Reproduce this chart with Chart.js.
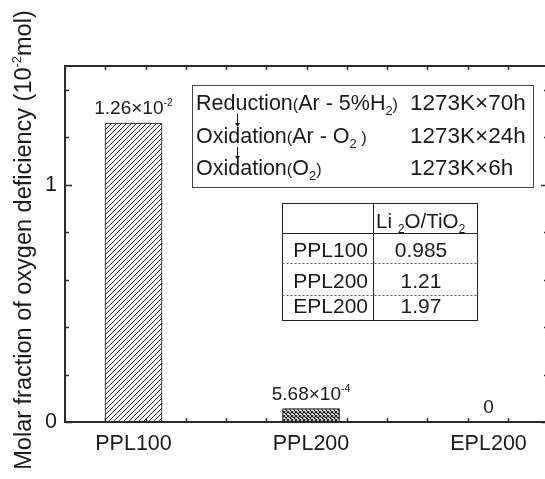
<!DOCTYPE html>
<html>
<head>
<meta charset="utf-8">
<script src="https://cdn.jsdelivr.net/npm/chart.js@4.4.1/dist/chart.umd.min.js"></script>
<style>
html, body { margin: 0; padding: 0; background: #fff; overflow: hidden; }
#wrap { position: absolute; left: 0; top: 0; width: 552px; height: 479px; }
</style>
</head>
<body>
<div id="wrap"><canvas id="chart" width="552" height="479"></canvas></div>
<script>
const categories = ['PPL100', 'PPL200', 'EPL200'];
const values = [1.26, 0.0568, 0];
const valueText = ['1.26×10', '5.68×10', '0'];
const valueExp = ['-2', '-4', ''];
const yLabelTicks = [0, 1];

const steps = [
    [['Reduction', 'n'], ['(', 'p'], ['Ar - 5%H', 'n'], ['2', 's'], [')', 'p']],
    [['Oxidation', 'n'], ['(', 'p'], ['Ar - O', 'n'], ['2', 's'], [' )', 'p']],
    [['Oxidation', 'n'], ['(', 'p'], ['O', 'n'], ['2', 's'], [')', 'p']]
];
const stepConditions = ['1273K×70h', '1273K×24h', '1273K×6h'];

const tableHeader = [['Li ', 'n'], ['2', 's'], ['O/TiO', 'n'], ['2', 's']];
const tableRows = ['PPL100', 'PPL200', 'EPL200'];
const tableRatios = ['0.985', '1.21', '1.97'];

const yTitle = [['Molar fraction of oxygen deficiency (10', 'n'], ['-2', 'u'], ['mol)', 'n']];

const FAMILY = '"Liberation Sans", Arial, sans-serif';
const INK = '#1a1a1a';

function pattern(size, draw) {
    const c = document.createElement('canvas');
    c.width = c.height = size;
    const g = c.getContext('2d');
    g.fillStyle = '#fff';
    g.fillRect(0, 0, size, size);
    g.strokeStyle = '#111';
    g.lineWidth = 0.9;
    draw(g, size);
    return document.getElementById('chart').getContext('2d').createPattern(c, 'repeat');
}

const diagonal = pattern(5, (g, s) => {
    g.beginPath();
    g.moveTo(0, s); g.lineTo(s, 0);
    g.moveTo(-1, 1); g.lineTo(1, -1);
    g.moveTo(s - 1, s + 1); g.lineTo(s + 1, s - 1);
    g.stroke();
});
const crossed = pattern(4, (g, s) => {
    g.lineWidth = 1.1;
    g.beginPath();
    g.moveTo(0, s); g.lineTo(s, 0);
    g.moveTo(0, 0); g.lineTo(s, s);
    g.stroke();
});

// draws text pieces: n normal, p small paren, s subscript, u superscript
function rich(ctx, x, y, segs, size) {
    const scale = {n: 1, p: 0.76, s: 0.6, u: 0.55};
    const shift = {n: 0, p: 0, s: size * 0.25, u: -size * 0.42};
    segs.forEach(([t, k]) => {
        ctx.font = (size * scale[k]).toFixed(1) + 'px ' + FAMILY;
        ctx.fillText(t, x, y + shift[k]);
        x += ctx.measureText(t).width;
    });
    return x;
}
function richWidth(ctx, segs, size) {
    const scale = {n: 1, p: 0.76, s: 0.6, u: 0.55};
    let w = 0;
    segs.forEach(([t, k]) => {
        ctx.font = (size * scale[k]).toFixed(1) + 'px ' + FAMILY;
        w += ctx.measureText(t).width;
    });
    return w;
}

function arrow(ctx, x, y0, y1) {
    ctx.beginPath();
    ctx.moveTo(x, y0); ctx.lineTo(x, y1 - 3);
    ctx.stroke();
    ctx.beginPath();
    ctx.moveTo(x - 2.5, y1 - 4); ctx.lineTo(x + 2.5, y1 - 4); ctx.lineTo(x, y1);
    ctx.closePath();
    ctx.fill();
}

const overlay = {
    id: 'overlay',
    afterDatasetsDraw(chart) {
        const {ctx, chartArea: a, scales} = chart;
        ctx.save();
        ctx.fillStyle = INK;
        ctx.textBaseline = 'alphabetic';
        ctx.textAlign = 'left';

        // value labels above bars
        chart.getDatasetMeta(0).data.forEach((bar, i) => {
            const segs = [[valueText[i], 'n']];
            if (valueExp[i]) segs.push([valueExp[i], 'u']);
            const w = richWidth(ctx, segs, 19);
            rich(ctx, bar.x - w / 2, bar.y - 9, segs, 19);
        });

        // frame with inward ticks
        ctx.strokeStyle = '#2a2a2a';
        ctx.lineWidth = 2;
        ctx.strokeRect(a.left, a.top, a.right - a.left, a.bottom - a.top);
        ctx.lineWidth = 1.4;
        ctx.beginPath();
        scales.y.ticks.forEach(t => {
            const py = Math.round(scales.y.getPixelForValue(t.value)) + 0.5;
            const len = yLabelTicks.some(v => Math.abs(v - t.value) < 1e-6) ? 7 : 4;
            ctx.moveTo(a.left, py); ctx.lineTo(a.left + len, py);
            ctx.moveTo(a.right, py); ctx.lineTo(a.right - len, py);
        });
        scales.xf.ticks.forEach(t => {
            const px = Math.round(scales.xf.getPixelForValue(t.value)) + 0.5;
            ctx.moveTo(px, a.top); ctx.lineTo(px, a.top + 4);
            ctx.moveTo(px, a.bottom); ctx.lineTo(px, a.bottom - 4);
        });
        ctx.stroke();

        // y title
        ctx.save();
        ctx.translate(31, 240);
        ctx.rotate(-Math.PI / 2);
        const tw = richWidth(ctx, yTitle, 23.5);
        rich(ctx, -tw / 2, 0, yTitle, 23.5);
        ctx.restore();

        // treatment box
        ctx.fillStyle = '#fff';
        ctx.fillRect(192, 85, 341, 102);
        ctx.strokeStyle = '#444';
        ctx.lineWidth = 1;
        ctx.strokeRect(192.5, 85.5, 341, 102);
        ctx.fillStyle = INK;
        const base = [110, 143, 175];
        steps.forEach((segs, i) => {
            rich(ctx, 196, base[i], segs, 21.5);
            ctx.font = '22.5px ' + FAMILY;
            ctx.fillText(stepConditions[i], 410, base[i]);
        });
        ctx.strokeStyle = INK;
        arrow(ctx, 237.5, 114, 127);
        arrow(ctx, 237.5, 147, 160);

        // ratio table
        const L = 282.5, M = 373.5, R = 477.5, T = 203.5, H = 233.5, B = 320.5;
        ctx.fillStyle = '#fff';
        ctx.fillRect(L, T, R - L, B - T);
        ctx.strokeStyle = '#222';
        ctx.lineWidth = 1;
        ctx.strokeRect(L, T, R - L, B - T);
        ctx.beginPath();
        ctx.moveTo(M, T); ctx.lineTo(M, B);
        ctx.moveTo(L, H); ctx.lineTo(R, H);
        ctx.stroke();
        ctx.setLineDash([2, 2]);
        ctx.strokeStyle = '#555';
        ctx.beginPath();
        [263.5, 295.5].forEach(yy => { ctx.moveTo(L, yy); ctx.lineTo(R, yy); });
        ctx.stroke();
        ctx.setLineDash([]);
        ctx.fillStyle = INK;
        rich(ctx, 376, 228, tableHeader, 20.5);
        const rowBase = [257, 288, 313];
        ctx.font = '21px ' + FAMILY;
        tableRows.forEach((r, i) => {
            ctx.textAlign = 'right';
            ctx.fillText(r, 368, rowBase[i]);
            ctx.textAlign = 'center';
            ctx.fillText(tableRatios[i], 421, rowBase[i]);
        });
        ctx.restore();
    }
};

new Chart(document.getElementById('chart'), {
    type: 'bar',
    data: {
        datasets: [{
            data: categories.map((c, i) => ({x: i, y: values[i]})),
            backgroundColor: [diagonal, crossed, '#fff'],
            borderColor: '#111',
            borderWidth: 1,
            barThickness: 57
        }]
    },
    options: {
        responsive: false,
        animation: false,
        layout: {padding: {top: 66, right: 4, left: 0, bottom: 0}},
        plugins: {legend: {display: false}, tooltip: {enabled: false}},
        scales: {
            x: {
                type: 'linear',
                offset: false,
                bounds: 'data',
                min: -0.386,
                max: 2.335,
                grid: {display: false, drawTicks: false, offset: false},
                border: {display: false},
                afterBuildTicks: (s) => { s.ticks = categories.map((c, i) => ({value: i})); },
                afterFit: (s) => { s.height = 57; },
                ticks: {
                    autoSkip: false,
                    maxRotation: 0,
                    padding: 9,
                    color: INK,
                    font: {family: FAMILY, size: 21.5},
                    callback: (v) => categories[v] ?? ''
                }
            },
            xf: {
                type: 'linear',
                position: 'top',
                offset: false,
                min: 0,
                max: 12,
                grid: {display: false, drawTicks: false},
                border: {display: false},
                ticks: {display: false, stepSize: 1, autoSkip: false},
                afterFit: (s) => { s.height = 0; }
            },
            y: {
                min: 0,
                max: 1.5,
                grid: {display: false, drawTicks: false},
                border: {display: false},
                afterFit: (s) => { s.width = 65; },
                ticks: {
                    stepSize: 0.2,
                    includeBounds: false,
                    autoSkip: false,
                    padding: 8,
                    color: INK,
                    font: {family: FAMILY, size: 21.5},
                    callback: (v) => yLabelTicks.some(t => Math.abs(t - v) < 1e-6) ? String(Math.round(v)) : ''
                }
            }
        }
    },
    plugins: [overlay]
});
</script>
</body>
</html>
